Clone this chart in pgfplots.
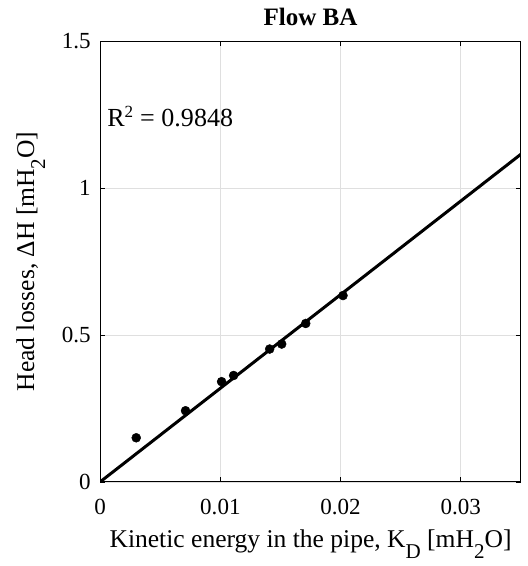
\documentclass[border=0pt]{standalone}
\usepackage{pgfplots}
\pgfplotsset{compat=1.18}
\usepackage{fontspec}
\setmainfont{Liberation Serif}
\newcommand{\sub}[1]{\raisebox{-11pt}{\fontsize{21}{21}\selectfont #1}}
\begin{document}
\begin{tikzpicture}
\begin{axis}[
  scale only axis,
  width=420pt, height=440pt,
  xmin=0, xmax=0.035, ymin=0, ymax=1.5,
  xtick={0,0.01,0.02,0.03},
  ytick={0,0.5,1,1.5},
  xticklabels={0,0.01,0.02,0.03},
  yticklabels={0,0.5,1,1.5},
  scaled x ticks=false,
  tick align=inside,
  tick pos=both,
  major tick length=5pt,
  axis line style={black, line width=0.9pt},
  tick style={black, line width=0.7pt},
  xmajorgrids, ymajorgrids,
  grid style={gray!25, line width=0.7pt},
  ticklabel style={font=\fontsize{23}{27}\selectfont},
  xticklabel style={yshift=-14pt},
  yticklabel style={xshift=-6pt},
  label style={font=\fontsize{25.5}{30}\selectfont},
  xlabel={Kinetic energy in the pipe, K\sub{D} [mH\sub{2}O]},
  ylabel={Head losses, ΔH [mH\sub{2}O]},
  xlabel style={at={(rel axis cs:0.5,0)}, anchor=base, yshift=-66pt},
  ylabel style={at={(rel axis cs:0,0.5)}, anchor=base, yshift=66pt},
  title={\textbf{Flow BA}},
  title style={font=\fontsize{25}{30}\selectfont, at={(rel axis cs:0.5,1)}, anchor=base, yshift=10pt},
]
\addplot[black, line width=3pt] coordinates {(0,0) (0.035,1.115)};
\addplot[only marks, mark=*, mark size=4.5pt, black] coordinates {
  (0.003,0.150) (0.0071,0.242) (0.0101,0.341) (0.0111,0.362)
  (0.0141,0.452) (0.0151,0.469) (0.0171,0.539) (0.0202,0.634)
};
\node[anchor=base west, inner sep=0pt, font=\fontsize{26}{30}\selectfont] at (axis cs:0.00058,1.21) {R\textsuperscript{\fontsize{17}{17}\selectfont 2} = 0.9848};
\end{axis}
\pgfresetboundingbox
\path (current axis.south west) +(-100pt,-84pt) (current axis.north east) +(7pt,41pt);
\end{tikzpicture}
\end{document}
